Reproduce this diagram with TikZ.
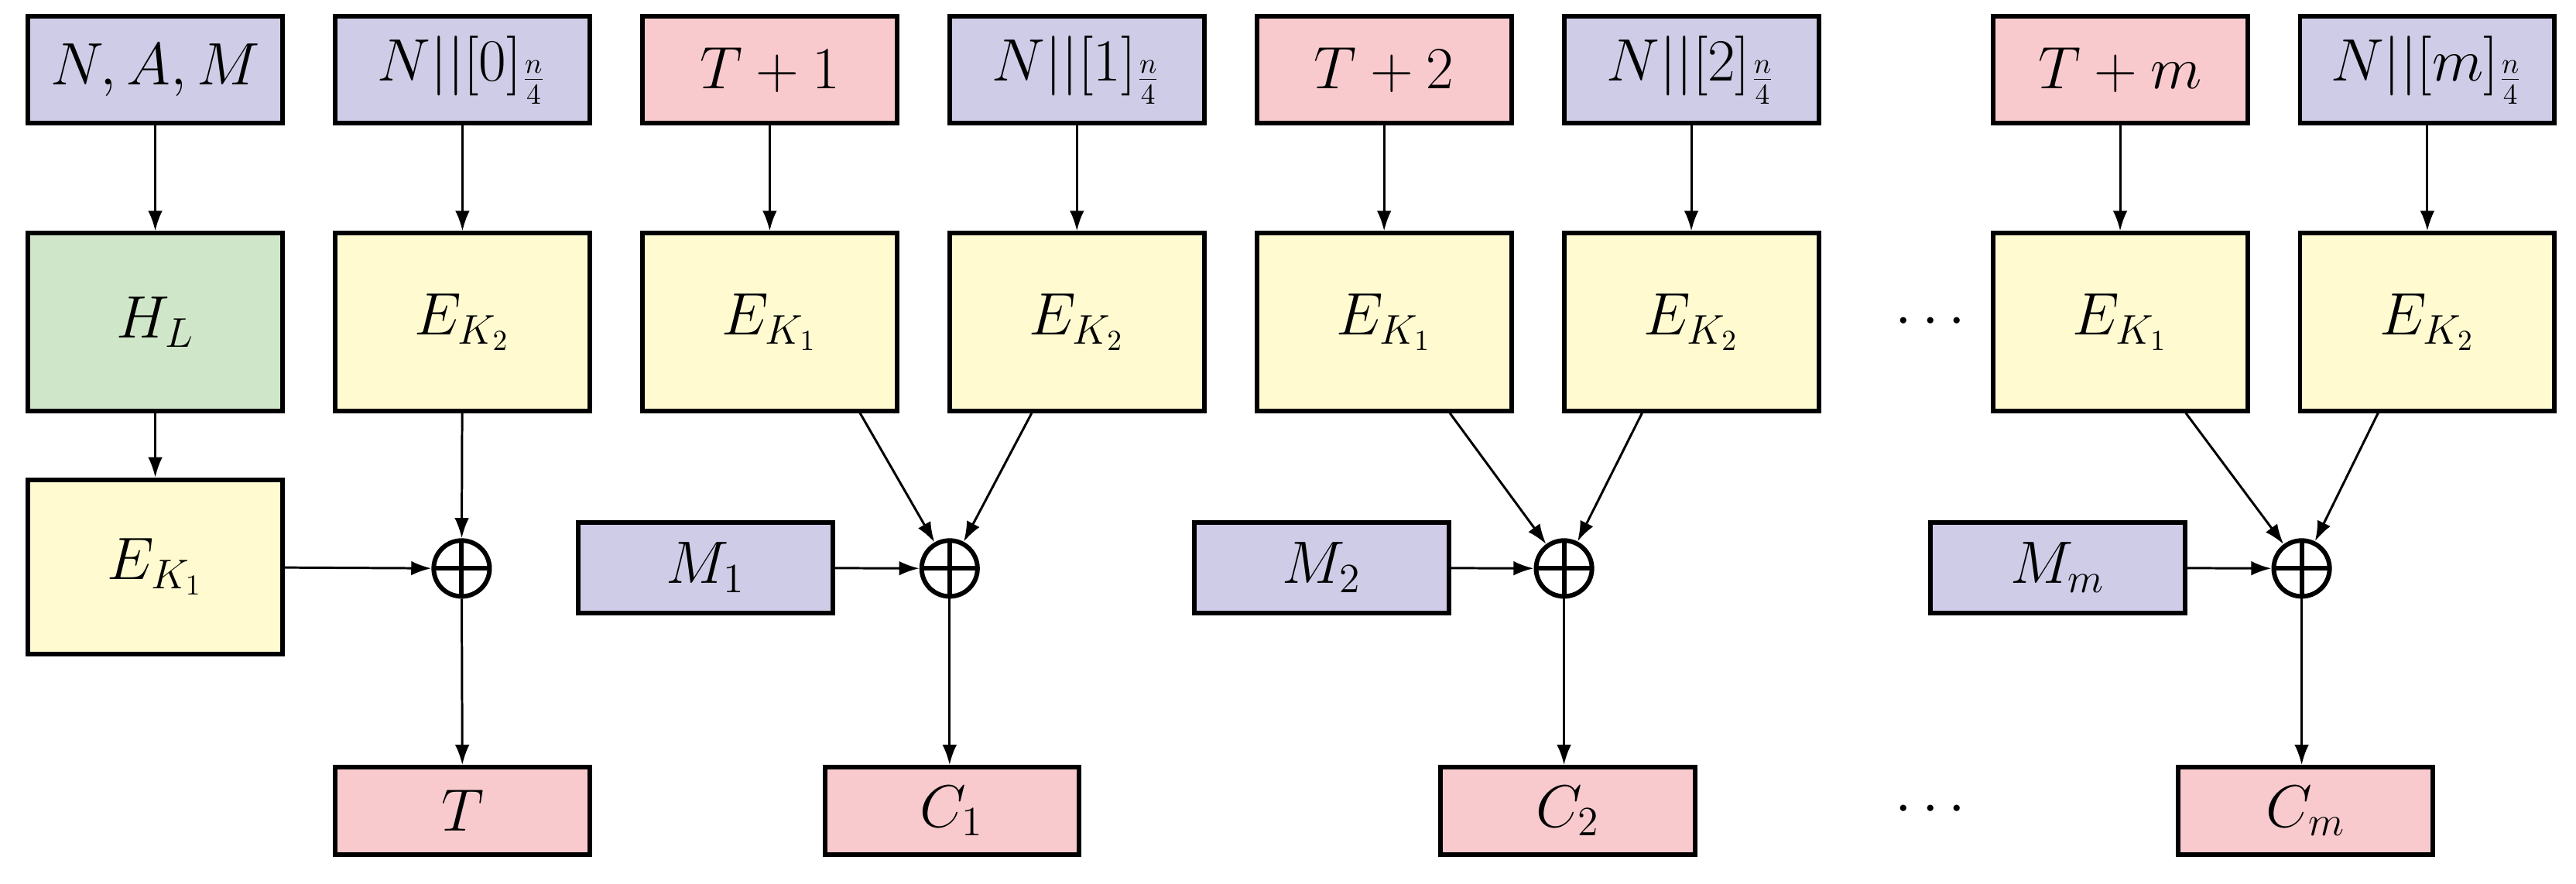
\documentclass[tikz,border=0pt]{standalone}
\usetikzlibrary{arrows.meta}
\definecolor{cblue}{RGB}{206,204,230}
\definecolor{cpink}{RGB}{248,202,206}
\definecolor{cyel}{RGB}{255,250,208}
\definecolor{cgreen}{RGB}{208,230,200}
\begin{document}
\begin{tikzpicture}[x=0.02cm,y=-0.02cm,
  font=\fontsize{20}{24}\selectfont,
  box/.style={draw,line width=1.6pt,minimum width=3.1cm,inner sep=0pt},
  top/.style={box,minimum height=1.3cm},
  mid/.style={box,minimum height=2.16cm,fill=cyel},
  msg/.style={box,minimum height=1.1cm,fill=cblue},
  bot/.style={box,minimum height=1.06cm,fill=cpink},
  xor/.style={draw,circle,line width=1.6pt,minimum size=0.68cm,inner sep=0pt,
    path picture={\draw[line width=1.6pt] (path picture bounding box.north)--(path picture bounding box.south)
      (path picture bounding box.west)--(path picture bounding box.east);}},
  arr/.style={-{Latex[length=7pt,width=5pt]},line width=0.8pt}]
\useasboundingbox (0,0) rectangle (1568,538);
% top row
\node[top,fill=cblue] (t1) at (94.5,42.5) {$N,A,M$};
\node[top,fill=cblue] (t2) at (281.5,42.5) {$N||[0]_{\frac{n}{4}}$};
\node[top,fill=cpink] (t3) at (468.5,42.5) {$T+1$};
\node[top,fill=cblue] (t4) at (655.5,42.5) {$N||[1]_{\frac{n}{4}}$};
\node[top,fill=cpink] (t5) at (842.5,42.5) {$T+2$};
\node[top,fill=cblue] (t6) at (1029.5,42.5) {$N||[2]_{\frac{n}{4}}$};
\node[top,fill=cpink] (t7) at (1290.5,42.5) {$T+m$};
\node[top,fill=cblue] (t8) at (1477.5,42.5) {$N||[m]_{\frac{n}{4}}$};
% middle
\node[mid,fill=cgreen] (m1) at (94.5,196) {$H_L$};
\node[mid] (m2) at (281.5,196) {$E_{K_2}$};
\node[mid] (m3) at (468.5,196) {$E_{K_1}$};
\node[mid] (m4) at (655.5,196) {$E_{K_2}$};
\node[mid] (m5) at (842.5,196) {$E_{K_1}$};
\node[mid] (m6) at (1029.5,196) {$E_{K_2}$};
\node[mid] (m7) at (1290.5,196) {$E_{K_1}$};
\node[mid] (m8) at (1477.5,196) {$E_{K_2}$};
\node (d1) at (1175,196) {$\cdots$};
\node[mid,minimum height=2.12cm] (e1) at (94.5,345) {$E_{K_1}$};
% xor and messages
\node[xor] (x0) at (281,346) {};
\node[xor] (x1) at (578,346) {};
\node[xor] (x2) at (952,346) {};
\node[xor] (x3) at (1401,346) {};
\node[msg] (M1) at (429.5,345.5) {$M_1$};
\node[msg] (M2) at (804.5,345.5) {$M_2$};
\node[msg] (Mm) at (1252.5,345.5) {$M_m$};
% bottom
\node[bot] (bT) at (281.5,493.5) {$T$};
\node[bot] (b1) at (579.5,493.5) {$C_1$};
\node[bot] (b2) at (954.5,493.5) {$C_2$};
\node[bot] (bm) at (1403.5,493.5) {$C_m$};
\node (d2) at (1175,493) {$\cdots$};
% arrows
\foreach \i in {1,...,8}{\draw[arr] (t\i) -- (m\i);}
\draw[arr] (m1) -- (e1);
\draw[arr] (e1) -- (x0);
\draw[arr] (m2) -- (x0);
\draw[arr] (x0) -- (bT);
\draw[arr] (M1) -- (x1);
\draw[arr] (M2) -- (x2);
\draw[arr] (Mm) -- (x3);
\draw[arr] ([xshift=1.1cm]m3.south) -- (x1);
\draw[arr] ([xshift=-0.55cm]m4.south) -- (x1);
\draw[arr] ([xshift=0.8cm]m5.south) -- (x2);
\draw[arr] ([xshift=-0.6cm]m6.south) -- (x2);
\draw[arr] ([xshift=0.8cm]m7.south) -- (x3);
\draw[arr] ([xshift=-0.6cm]m8.south) -- (x3);
\draw[arr] (x1) -- (x1 |- b1.north);
\draw[arr] (x2) -- (x2 |- b2.north);
\draw[arr] (x3) -- (x3 |- bm.north);
\end{tikzpicture}
\end{document}
